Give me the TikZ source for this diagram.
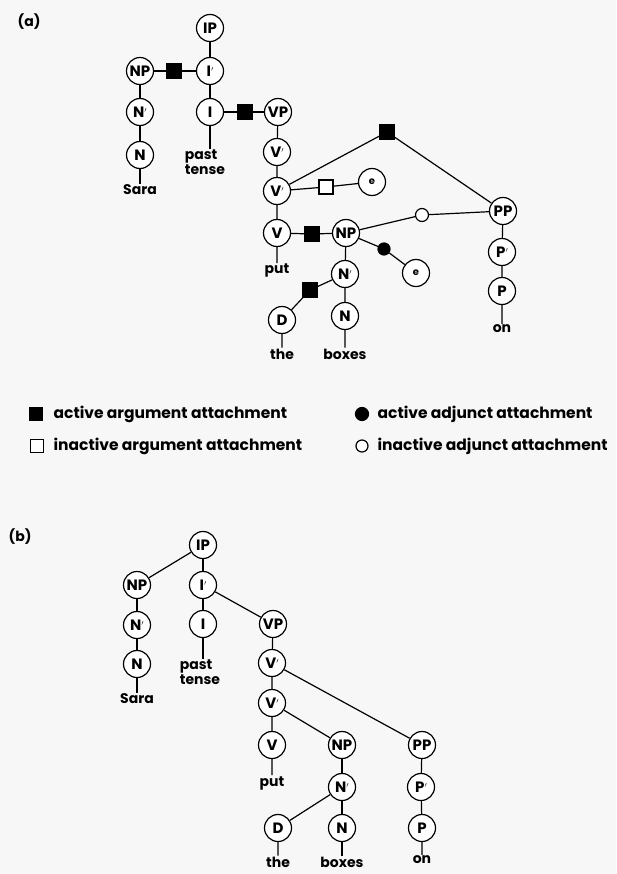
\documentclass[tikz,border=0pt]{standalone}
\usepackage{fontspec}
\setmainfont{Poppins}
\newcommand{\pbar}[1]{#1\raisebox{0.6ex}{\scriptsize$\prime$}}
\begin{document}
\begin{tikzpicture}[x=1pt,y=-1pt,
  every path/.style={line width=1.2pt},
  cat/.style={circle,draw,line width=1.2pt,fill=white,minimum size=27pt,inner sep=0pt,font=\bfseries\fontsize{15}{15}\selectfont},
  enode/.style={cat,font=\bfseries\fontsize{10}{10}\selectfont},
  fsq/.style={rectangle,draw,fill=black,minimum size=14pt,inner sep=0pt},
  osq/.style={rectangle,draw,fill=white,minimum size=14pt,inner sep=0pt},
  fcirc/.style={circle,draw,fill=black,minimum size=12pt,inner sep=0pt},
  ocirc/.style={circle,draw,fill=white,minimum size=13pt,inner sep=0pt},
  word/.style={inner sep=0.5pt,font=\bfseries\fontsize{14}{12.5}\selectfont,align=left},
  lab/.style={inner sep=0pt,font=\bfseries\fontsize{14}{14}\selectfont,anchor=west},
  leg/.style={inner sep=0pt,font=\bfseries\fontsize{15.5}{15.5}\selectfont,anchor=west}]
\fill[black!3] (0,0) rectangle (616,874);
\useasboundingbox (0,0) rectangle (616,874);

% ---------- (a) ----------
\node[lab] (la) at (17,22) {(a)};
\node[cat] (aIP) at (210,28) {IP};
\node[cat] (aIb) at (210,71) {\pbar{I}};
\node[cat] (aNP) at (140,71) {NP};
\node[fsq] (asq1) at (174,71) {};
\node[cat] (aNb) at (140,112) {\pbar{N}};
\node[cat] (aN) at (140,155) {N};
\node[word] (aSara) at (140,190) {Sara};
\node[word] (apast) at (205,162) {past\\tense};
\node[cat] (aI) at (210,112) {I};
\node[fsq] (asq2) at (245,112) {};
\node[cat] (aVP) at (278,112) {VP};
\node[cat] (aVb1) at (277,152) {\pbar{V}};
\node[cat] (aVb2) at (277,191) {\pbar{V}};
\node[cat] (aV) at (277,233) {V};
\node[word] (aput) at (277,271) {put};
\node[fsq] (asqT) at (387,132) {};
\node[osq] (asqO) at (326,187) {};
\node[enode] (ae1) at (372,182) {e};
\node[fsq] (asqV) at (312,234) {};
\node[cat] (aNP2) at (346,233) {NP};
\node[ocirc] (acO) at (422,215) {};
\node[cat] (aPP) at (503,211) {PP};
\node[fcirc] (acF) at (384,249) {};
\node[enode] (ae2) at (416,273) {e};
\node[cat] (aNb2) at (345,274) {\pbar{N}};
\node[fsq] (asqD) at (310,290) {};
\node[cat] (aD) at (282,320) {D};
\node[cat] (aN2) at (345,316) {N};
\node[word] (athe) at (282,354) {the};
\node[word] (aboxes) at (345,354) {boxes};
\node[cat] (aPb) at (502,252) {\pbar{P}};
\node[cat] (aP) at (502,291) {P};
\node[word] (aon) at (502,329) {on};

\draw (aIP) -- (aIb);
\draw (aNP) -- (asq1) -- (aIb);
\draw (aNP) -- (aNb) -- (aN) -- (aSara);
\draw (aIb) -- (aI);
\draw (aI) -- (apast.north -| aI);
\draw (aI) -- (asq2) -- (aVP);
\draw (aVP) -- (aVb1) -- (aVb2) -- (aV) -- (aput);
\draw (aVb2) -- (asqT) -- (aPP);
\draw (aVb2) -- (asqO) -- (ae1);
\draw (aV) -- (asqV) -- (aNP2);
\draw (aNP2) -- (acO) -- (aPP);
\draw (aNP2) -- (acF) -- (ae2);
\draw (aNP2) -- (aNb2) -- (aN2) -- (aboxes);
\draw (aNb2) -- (asqD) -- (aD) -- (athe);
\draw (aPP) -- (aPb) -- (aP) -- (aon);

% ---------- legend ----------
\node[fsq,minimum size=13pt] (k1) at (36,414) {};
\node[leg] (k1t) at (53,414) {active argument attachment};
\node[osq,minimum size=13pt] (k2) at (37,446) {};
\node[leg] (k2t) at (53,446) {inactive argument attachment};
\node[fcirc,minimum size=13pt] (k3) at (362,414) {};
\node[leg] (k3t) at (377,414) {active adjunct attachment};
\node[ocirc,minimum size=12pt] (k4) at (362,446) {};
\node[leg] (k4t) at (377,446) {inactive adjunct attachment};

% ---------- (b) ----------
\node[lab] (lb) at (8,537) {(b)};
\node[cat] (bIP) at (203,545) {IP};
\node[cat] (bNP) at (137,585) {NP};
\node[cat] (bIb) at (203,585) {\pbar{I}};
\node[cat] (bNb) at (137,625) {\pbar{N}};
\node[cat] (bI) at (203,624) {I};
\node[cat] (bN) at (137,664) {N};
\node[word] (bSara) at (137,699) {Sara};
\node[word] (bpast) at (200,672) {past\\tense};
\node[cat] (bVP) at (273,624) {VP};
\node[cat] (bVb1) at (272,663) {\pbar{V}};
\node[cat] (bVb2) at (272,703) {\pbar{V}};
\node[cat] (bV) at (272,745) {V};
\node[word] (bput) at (272,783) {put};
\node[cat] (bNP2) at (342,745) {NP};
\node[cat] (bPP) at (422,745) {PP};
\node[cat] (bNb2) at (342,787) {\pbar{N}};
\node[cat] (bPb) at (421,787) {\pbar{P}};
\node[cat] (bD) at (278,828) {D};
\node[cat] (bN2) at (342,828) {N};
\node[cat] (bP) at (422,828) {P};
\node[word] (bthe) at (278,862) {the};
\node[word] (bboxes) at (342,862) {boxes};
\node[word] (bon) at (422,860) {on};

\draw (bIP) -- (bNP);
\draw (bIP) -- (bIb);
\draw (bNP) -- (bNb) -- (bN) -- (bSara);
\draw (bIb) -- (bI);
\draw (bI) -- (bpast.north -| bI);
\draw (bIb) -- (bVP);
\draw (bVP) -- (bVb1) -- (bVb2) -- (bV) -- (bput);
\draw (bVb1) -- (bPP);
\draw (bVb2) -- (bNP2);
\draw (bNP2) -- (bNb2) -- (bN2) -- (bboxes);
\draw (bNb2) -- (bD) -- (bthe);
\draw (bPP) -- (bPb) -- (bP) -- (bon);
\end{tikzpicture}
\end{document}
